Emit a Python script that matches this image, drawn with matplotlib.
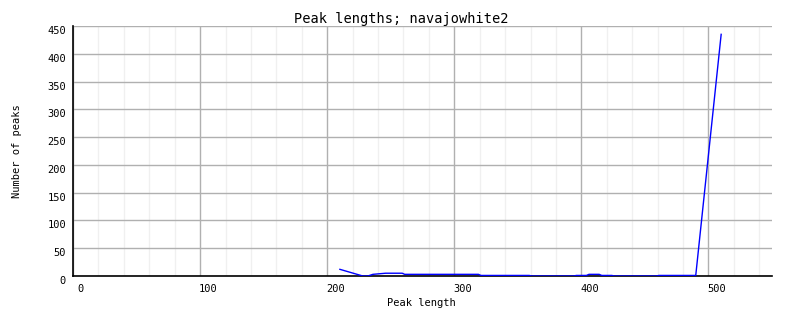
import matplotlib
matplotlib.use("Agg")
import matplotlib.pyplot as plt
from matplotlib.ticker import MultipleLocator
import matplotlib.transforms as mtransforms

title = "Peak lengths; navajowhite2"
xlabel = "Peak length"
ylabel = "Number of peaks"

peak_length = [210, 228, 232, 236, 246, 259, 261, 319, 321, 359, 361,
               394, 396, 404, 406, 414, 416, 424, 426, 459, 461, 490, 510]
num_peaks = [12, 0, 0, 3, 5, 5, 3, 3, 1, 1, 0,
             0, 1, 1, 3, 3, 1, 1, 0, 0, 1, 1, 435]

fig = plt.figure(figsize=(8.02, 3.28), dpi=100)
ax = fig.add_axes([73/802, 1-276/328, (772-73)/802, (276-26)/328])

mono = "DejaVu Sans Mono"
ax.plot(peak_length, num_peaks, color="#0000ff", linewidth=1.0, zorder=3)

ax.set_xlim(0, 550)
ax.set_ylim(0, 450)
ax.xaxis.set_major_locator(MultipleLocator(100))
ax.xaxis.set_minor_locator(MultipleLocator(20))
ax.yaxis.set_major_locator(MultipleLocator(50))

ax.grid(which="major", color="#b0b0b0", linewidth=1.0)
ax.grid(which="minor", axis="x", color="#f0f0f0", linewidth=1.0)
ax.set_axisbelow(True)

for s in ["top", "right"]:
    ax.spines[s].set_visible(False)
for s in ["left", "bottom"]:
    ax.spines[s].set_color("black")
    ax.spines[s].set_linewidth(1.2)

ax.tick_params(which="both", length=0)
ax.tick_params(axis="x", pad=6, labelsize=7.5)
ax.tick_params(axis="y", pad=5, labelsize=7.5)
for lab in ax.get_xticklabels():
    lab.set_fontfamily(mono)
    lab.set_transform(lab.get_transform() + mtransforms.ScaledTranslation(8/100, 0, fig.dpi_scale_trans))
for lab in ax.get_yticklabels():
    lab.set_fontfamily(mono)
    lab.set_transform(lab.get_transform() + mtransforms.ScaledTranslation(0, -4/100, fig.dpi_scale_trans))

fig.text(401/802, 1-19/328, title, ha="center", va="center", fontfamily=mono, fontsize=9.8)
fig.text(421/802, 1-303/328, xlabel, ha="center", va="center", fontfamily=mono, fontsize=7.5)
fig.text(17/802, 1-151/328, ylabel, ha="center", va="center", rotation=90, fontfamily=mono, fontsize=7.5)

fig.savefig("out.png", dpi=100, facecolor="white")
